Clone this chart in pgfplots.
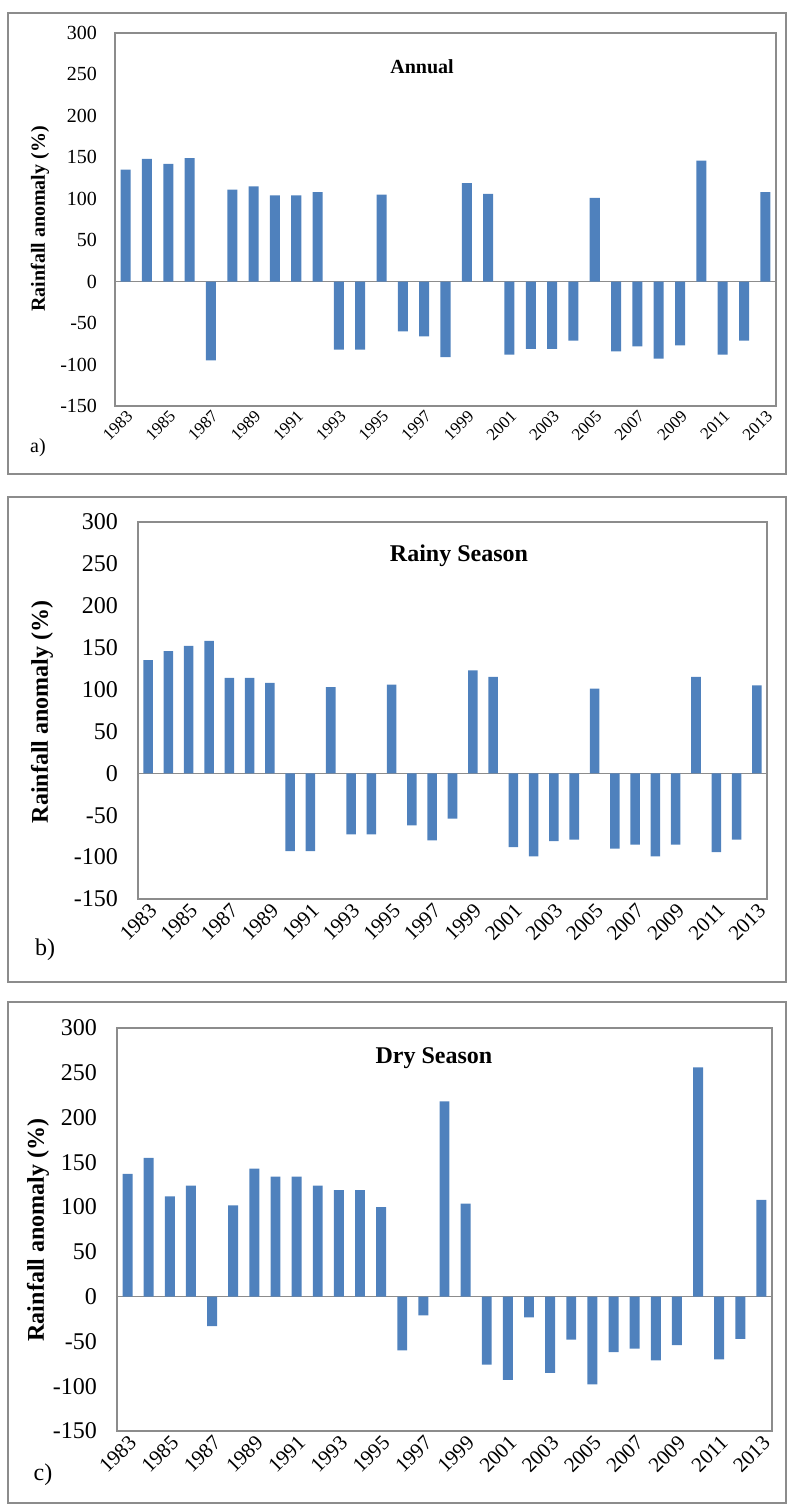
\documentclass[border=0pt]{standalone}
\usepackage{fontspec}
\setmainfont{Liberation Serif}
\usepackage{pgfplots}
\pgfplotsset{compat=1.18}
\usepackage{pgfplotstable}

\definecolor{barblue}{HTML}{4F81BD}
\definecolor{framegray}{HTML}{8C8C8C}

% year, anomaly (%)
\pgfplotstableread{
year val
1983 135
1984 148
1985 142
1986 149
1987 -95
1988 111
1989 115
1990 104
1991 104
1992 108
1993 -82
1994 -82
1995 105
1996 -60
1997 -66
1998 -91
1999 119
2000 106
2001 -88
2002 -81
2003 -81
2004 -71
2005 101
2006 -84
2007 -78
2008 -93
2009 -77
2010 146
2011 -88
2012 -71
2013 108
}\annual

\pgfplotstableread{
year val
1983 135
1984 146
1985 152
1986 158
1987 114
1988 114
1989 108
1990 -93
1991 -93
1992 103
1993 -73
1994 -73
1995 106
1996 -62
1997 -80
1998 -54
1999 123
2000 115
2001 -88
2002 -99
2003 -81
2004 -79
2005 101
2006 -90
2007 -85
2008 -99
2009 -85
2010 115
2011 -94
2012 -79
2013 105
}\rainy

\pgfplotstableread{
year val
1983 137
1984 155
1985 112
1986 124
1987 -33
1988 102
1989 143
1990 134
1991 134
1992 124
1993 119
1994 119
1995 100
1996 -60
1997 -21
1998 218
1999 104
2000 -76
2001 -93
2002 -23
2003 -85
2004 -48
2005 -98
2006 -62
2007 -58
2008 -71
2009 -54
2010 256
2011 -70
2012 -47
2013 108
}\dry

\pgfplotsset{
  panel/.style={
    scale only axis,
    anchor=south west,
    xmin=1982.5, xmax=2013.5,
    ymin=-150, ymax=300,
    xtick={1983,1985,...,2013},
    ytick={-150,-100,...,300},
    major tick length=0pt,
    axis line style={framegray, line width=0.9pt},
    /pgf/number format/1000 sep={},
    /pgf/number format/assume math mode=true,
    xticklabel style={rotate=45, anchor=north east, inner sep=1pt},
    ybar, bar width=0.47,
  },
}

\begin{document}
\begin{tikzpicture}
\path[use as bounding box] (0,0) rectangle (393.5pt,752pt);

% outer frames
\draw[framegray, line width=0.8pt] (4pt,515pt) rectangle (393pt,745.5pt);
\draw[framegray, line width=0.8pt] (4pt,261pt) rectangle (393pt,503.5pt);
\draw[framegray, line width=0.8pt] (4pt,0.5pt) rectangle (393pt,251pt);

% a) Annual
\begin{axis}[panel,
  at={(57.5pt,549pt)}, width=330.5pt, height=186.5pt,
  yticklabel style={font=\fontsize{10}{12}\selectfont, xshift=-5.5pt},
  xticklabel style={font=\fontsize{8.5}{10}\selectfont},
]
\draw[framegray, line width=0.6pt] (axis cs:1982.5,0) -- (axis cs:2013.5,0);
\addplot[fill=barblue, draw=none] table[x=year, y=val] {\annual};
\end{axis}
\node[font=\fontsize{10}{12}\selectfont\bfseries] at (211pt,718.5pt) {Annual};
\node[font=\fontsize{10}{12}\selectfont\bfseries, rotate=90] at (20pt,642.5pt) {Rainfall anomaly (\%)};
\node[font=\fontsize{10}{12}\selectfont] at (19pt,528pt) {a)};

% b) Rainy season
\begin{axis}[panel,
  at={(69pt,302.5pt)}, width=314.5pt, height=188.5pt,
  yticklabel style={font=\fontsize{12}{14}\selectfont, xshift=-6.5pt},
  xticklabel style={font=\fontsize{10.5}{12}\selectfont},
]
\draw[framegray, line width=0.6pt] (axis cs:1982.5,0) -- (axis cs:2013.5,0);
\addplot[fill=barblue, draw=none] table[x=year, y=val] {\rainy};
\end{axis}
\node[font=\fontsize{12}{14}\selectfont\bfseries] at (229.5pt,474pt) {Rainy Season};
\node[font=\fontsize{12}{14}\selectfont\bfseries, rotate=90] at (21pt,396pt) {Rainfall anomaly (\%)};
\node[font=\fontsize{12}{14}\selectfont] at (22.5pt,277pt) {b)};

% c) Dry season
\begin{axis}[panel,
  at={(58.5pt,36.5pt)}, width=327.5pt, height=201.5pt,
  yticklabel style={font=\fontsize{12}{14}\selectfont, xshift=-6.5pt},
  xticklabel style={font=\fontsize{10.5}{12}\selectfont},
]
\draw[framegray, line width=0.6pt] (axis cs:1982.5,0) -- (axis cs:2013.5,0);
\addplot[fill=barblue, draw=none] table[x=year, y=val] {\dry};
\end{axis}
\node[font=\fontsize{12}{14}\selectfont\bfseries] at (217pt,223pt) {Dry Season};
\node[font=\fontsize{12}{14}\selectfont\bfseries, rotate=90] at (19pt,137pt) {Rainfall anomaly (\%)};
\node[font=\fontsize{12}{14}\selectfont] at (21.5pt,14.5pt) {c)};
\end{tikzpicture}
\end{document}
